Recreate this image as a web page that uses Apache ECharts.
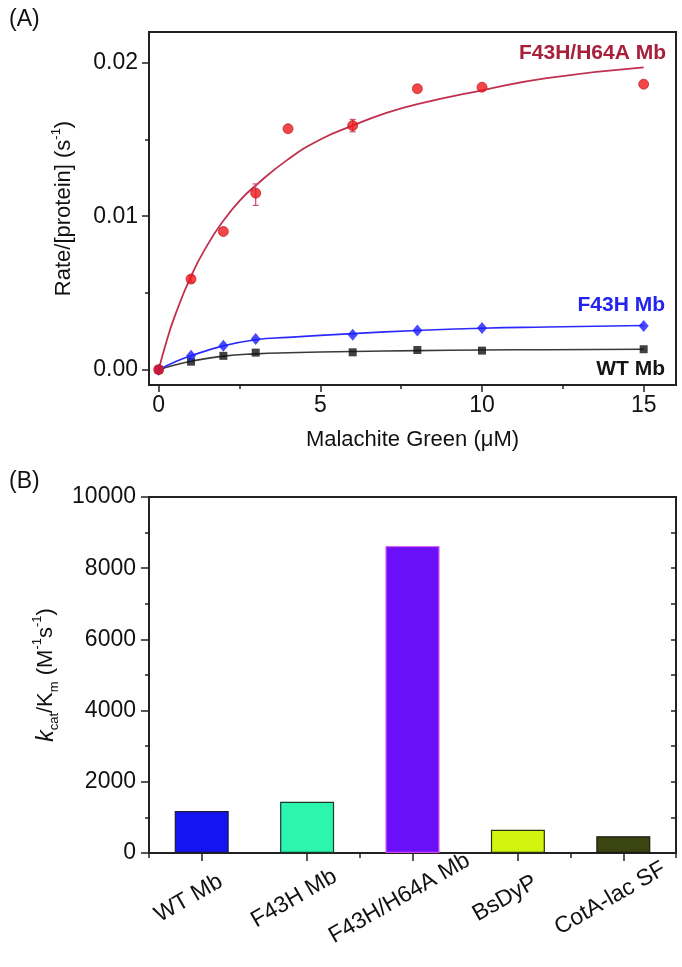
<!DOCTYPE html>
<html>
<head>
<meta charset="utf-8">
<script src="https://cdn.jsdelivr.net/npm/echarts@6/dist/echarts.min.js"></script>
<style>
html,body{margin:0;padding:0;background:#fff;}
#c{width:682px;height:967px;}
</style>
</head>
<body>
<div id="c"></div>
<script>
// ---- Panel A data ----
const redX = [0, 1, 2, 3, 4, 6, 8, 10, 15];
const redY = [0, 0.0059, 0.0090, 0.0115, 0.0157, 0.0159, 0.0183, 0.0184, 0.0186];
const blueX = [0, 1, 2, 3, 6, 8, 10, 15];
const blueY = [0, 0.0009, 0.00155, 0.0020, 0.00227, 0.00255, 0.00272, 0.00285];
const blackX = [0, 1, 2, 3, 6, 8, 10, 15];
const blackY = [0, 0.00052, 0.0009, 0.00111, 0.00113, 0.00128, 0.00124, 0.00133];
// fitted curves
const redFitX = [0, 0.25, 0.5, 1, 1.5, 2, 2.5, 3, 4, 5, 6, 7, 8, 10, 12, 15];
const redFitY = [0, 0.0019, 0.0035, 0.0061, 0.0081, 0.0097, 0.0110, 0.0120, 0.0137, 0.0150, 0.0159, 0.0167, 0.0173, 0.0182, 0.0190, 0.0197];
const blueFitX = [0, 0.5, 1, 2, 3, 4, 6, 8, 10, 12, 15];
const blueFitY = [0, 0.0005, 0.0009, 0.00155, 0.00195, 0.0021, 0.00235, 0.00255, 0.0027, 0.00278, 0.00288];
const blackFitX = [0, 0.5, 1, 2, 3, 4, 6, 8, 10, 12, 15];
const blackFitY = [0, 0.0003, 0.00055, 0.00088, 0.00103, 0.0011, 0.00118, 0.00124, 0.00128, 0.0013, 0.00133];
// error bars (red)
const errX = [1, 3, 6];
const errLo = [0.0057, 0.0107, 0.0155];
const errHi = [0.0061, 0.0121, 0.0163];
// ticks
const aXTicks = [0, 5, 10, 15];
const aXMinor = [2.5, 7.5, 12.5];
const aYTicks = [0, 0.01, 0.02];
const aYMinor = [0.005, 0.015];

// ---- Panel B data ----
const categories = ['WT Mb', 'F43H Mb', 'F43H/H64A Mb', 'BsDyP', 'CotA-lac SF'];
const kcatKm = [1180, 1440, 8620, 650, 470];
const barColors = ['#1414f0', '#2cf5b0', '#6a10f8', '#d2f510', '#3a4512'];
const barBorders = ['#1a1a3a', '#1a3a2a', '#d040f0', '#2a3010', '#1a1a10'];

const FONT = '"Liberation Sans", Arial, Helvetica, sans-serif';
const AX = '#222';

function pairs(xs, ys) { return xs.map((x, i) => [x, ys[i]]); }

const chart = echarts.init(document.getElementById('c'), null, {renderer: 'canvas'});

const option = {
  backgroundColor: '#fff',
  animation: false,
  textStyle: {fontFamily: FONT},
  title: [
    {text: '(A)', left: 4, top: 3, textStyle: {fontFamily: FONT, fontSize: 23, fontWeight: 'normal', color: '#111'}},
    {text: '(B)', left: 4, top: 465, textStyle: {fontFamily: FONT, fontSize: 23, fontWeight: 'normal', color: '#111'}}
  ],
  grid: [
    {left: 149, top: 32, right: 6, bottom: 582, show: true, borderColor: AX, borderWidth: 2, backgroundColor: 'transparent'},
    {left: 149, top: 497, right: 6, bottom: 114, show: true, borderColor: AX, borderWidth: 2, backgroundColor: 'transparent'}
  ],
  xAxis: [
    {
      type: 'value', gridIndex: 0, min: -0.3, max: 16, position: 'bottom',
      axisLine: {show: true, onZero: false, lineStyle: {color: AX, width: 2}},
      axisTick: {show: true, customValues: aXTicks, length: 7, lineStyle: {color: AX, width: 1.5}},
      axisLabel: {customValues: aXTicks, fontSize: 23, color: '#111', margin: 9, fontFamily: FONT},
      splitLine: {show: false},
      name: 'Malachite Green (\u03bcM)', nameLocation: 'middle', nameGap: 44,
      nameTextStyle: {fontSize: 22, color: '#111', fontFamily: FONT}
    },
    {
      type: 'value', gridIndex: 0, min: -0.3, max: 16, position: 'bottom',
      axisLine: {show: false, onZero: false},
      axisTick: {show: true, customValues: aXMinor, length: 4, lineStyle: {color: AX, width: 1.5}},
      axisLabel: {show: false},
      splitLine: {show: false}
    },
    {
      type: 'category', gridIndex: 1, data: categories, boundaryGap: true, position: 'bottom',
      axisLine: {show: true, onZero: false, lineStyle: {color: AX, width: 2}},
      axisTick: {show: true, alignWithLabel: true, length: 8, lineStyle: {color: AX, width: 1.5}},
      axisLabel: {rotate: 30, align: 'center', verticalAlign: 'middle', margin: 38, padding: [0, 30, 0, 0],
        fontSize: 23, color: '#111', fontFamily: FONT, interval: 0},
      splitLine: {show: false}
    },
    {
      type: 'category', gridIndex: 1, data: categories, boundaryGap: true, position: 'bottom',
      axisLine: {show: false, onZero: false},
      axisTick: {show: true, alignWithLabel: false, length: 5, lineStyle: {color: AX, width: 1.5}},
      axisLabel: {show: false},
      splitLine: {show: false}
    }
  ],
  yAxis: [
    {
      type: 'value', gridIndex: 0, min: -0.001, max: 0.022, position: 'left',
      axisLine: {show: true, onZero: false, lineStyle: {color: AX, width: 2}},
      axisTick: {show: true, customValues: aYTicks, length: 7, lineStyle: {color: AX, width: 1.5}},
      axisLabel: {customValues: aYTicks, fontSize: 23, color: '#111', margin: 11, fontFamily: FONT,
        formatter: v => v.toFixed(2)},
      splitLine: {show: false},
      name: 'Rate/[protein] (s{sup|-1})', nameLocation: 'middle', nameGap: 71,
      nameTextStyle: {fontSize: 22, color: '#111', fontFamily: FONT, lineHeight: 28,
        rich: {sup: {fontSize: 13, verticalAlign: 'top', lineHeight: 28, color: '#111', fontFamily: FONT}}}
    },
    {
      type: 'value', gridIndex: 0, min: -0.001, max: 0.022, position: 'left',
      axisLine: {show: false, onZero: false},
      axisTick: {show: true, customValues: aYMinor, length: 4, lineStyle: {color: AX, width: 1.5}},
      axisLabel: {show: false},
      splitLine: {show: false}
    },
    {
      type: 'value', gridIndex: 1, min: 0, max: 10000, interval: 2000, position: 'left',
      axisLine: {show: true, onZero: false, lineStyle: {color: AX, width: 2}},
      axisTick: {show: true, length: 8, lineStyle: {color: AX, width: 1.5}},
      minorTick: {show: true, splitNumber: 2, length: 4, lineStyle: {color: AX, width: 1.5}},
      axisLabel: {fontSize: 23, color: '#111', margin: 13, fontFamily: FONT, formatter: v => String(v)},
      splitLine: {show: false},
      name: '{k|k}{sub|cat}{n|/K}{sub|m}{n| (M}{sup|-1}{n|s}{sup|-1}{n|)}', nameLocation: 'middle', nameGap: 78,
      nameTextStyle: {fontSize: 22, color: '#111', fontFamily: FONT, lineHeight: 30,
        rich: {
          k: {fontSize: 23, fontStyle: 'italic', color: '#111', fontFamily: FONT, lineHeight: 30},
          n: {fontSize: 22, color: '#111', fontFamily: FONT, lineHeight: 30},
          sub: {fontSize: 13, verticalAlign: 'bottom', color: '#111', fontFamily: FONT, lineHeight: 30},
          sup: {fontSize: 13, verticalAlign: 'top', color: '#111', fontFamily: FONT, lineHeight: 30}
        }}
    },
    {
      type: 'value', gridIndex: 1, min: 0, max: 10000, interval: 2000, position: 'right',
      axisLine: {show: true, onZero: false, lineStyle: {color: AX, width: 2}},
      axisTick: {show: true, inside: true, length: 5, lineStyle: {color: AX, width: 1.5}},
      minorTick: {show: true, splitNumber: 2, length: 5, lineStyle: {color: AX, width: 1.5}},
      axisLabel: {show: false},
      splitLine: {show: false}
    }
  ],
  graphic: [
    {type: 'text', right: 16, top: 43, style: {text: 'F43H/H64A Mb', font: 'bold 21px ' + FONT, fill: '#a8203c'}},
    {type: 'text', right: 17, top: 295, style: {text: 'F43H Mb', font: 'bold 21px ' + FONT, fill: '#2424ee'}},
    {type: 'text', right: 17, top: 359, style: {text: 'WT Mb', font: 'bold 21px ' + FONT, fill: '#151515'}}
  ],
  series: [
    {type: 'line', xAxisIndex: 0, yAxisIndex: 0, data: pairs(blackFitX, blackFitY), smooth: true, showSymbol: false,
      lineStyle: {color: '#3a3a3a', width: 1.6}, z: 2},
    {type: 'line', xAxisIndex: 0, yAxisIndex: 0, data: pairs(blueFitX, blueFitY), smooth: true, showSymbol: false,
      lineStyle: {color: '#2a2aff', width: 1.6}, z: 2},
    {type: 'line', xAxisIndex: 0, yAxisIndex: 0, data: pairs(redFitX, redFitY), smooth: true, showSymbol: false,
      lineStyle: {color: '#c0304e', width: 1.8}, z: 2},
    {type: 'custom', xAxisIndex: 0, yAxisIndex: 0, z: 3,
      data: errX.map((x, i) => [x, errLo[i], errHi[i]]),
      renderItem: function (params, api) {
        const lo = api.coord([api.value(0), api.value(1)]);
        const hi = api.coord([api.value(0), api.value(2)]);
        const w = 3;
        const st = {stroke: '#d04a6a', lineWidth: 1.2};
        return {type: 'group', children: [
          {type: 'line', shape: {x1: lo[0], y1: lo[1], x2: hi[0], y2: hi[1]}, style: st},
          {type: 'line', shape: {x1: lo[0] - w, y1: lo[1], x2: lo[0] + w, y2: lo[1]}, style: st},
          {type: 'line', shape: {x1: hi[0] - w, y1: hi[1], x2: hi[0] + w, y2: hi[1]}, style: st}
        ]};
      }},
    {type: 'scatter', xAxisIndex: 0, yAxisIndex: 0, data: pairs(blackX, blackY), symbol: 'rect', symbolSize: 8,
      itemStyle: {color: '#111'}, z: 4},
    {type: 'scatter', xAxisIndex: 0, yAxisIndex: 0, data: pairs(blueX, blueY), symbol: 'diamond', symbolSize: [10, 12],
      itemStyle: {color: '#1c1cff'}, z: 4},
    {type: 'scatter', xAxisIndex: 0, yAxisIndex: 0, data: pairs(redX, redY), symbol: 'circle', symbolSize: 10,
      itemStyle: {color: '#f01818', borderColor: '#b01020', borderWidth: 0.8}, z: 5},
    {type: 'bar', xAxisIndex: 2, yAxisIndex: 2, barWidth: 54,
      data: kcatKm.map((v, i) => ({value: v, itemStyle: {color: barColors[i], borderColor: barBorders[i], borderWidth: 1.2}}))}
  ]
};
chart.setOption(option);
</script>
</body>
</html>
